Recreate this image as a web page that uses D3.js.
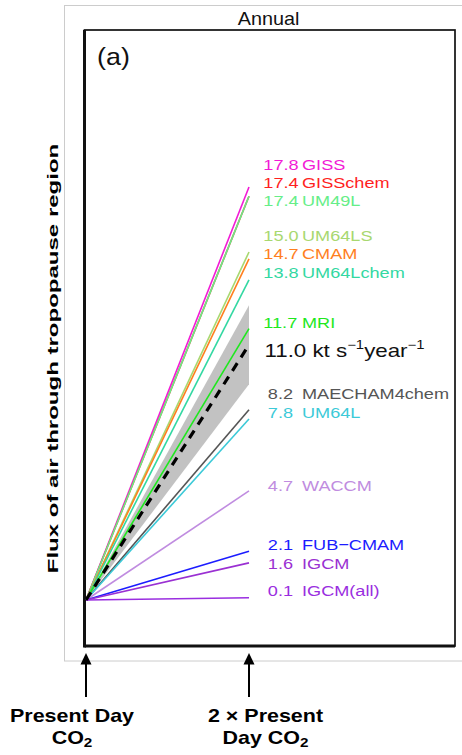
<!DOCTYPE html>
<html>
<head>
<meta charset="utf-8">
<script src="https://cdn.jsdelivr.net/npm/d3@7"></script>
<style>
  html, body { margin: 0; padding: 0; background: #fff; }
  svg { display: block; }
  text { font-family: "Liberation Sans", Arial, Helvetica, sans-serif; }
</style>
</head>
<body>
<svg id="chart" width="462" height="755"></svg>
<script>
// Tropopause-region mass flux trends per model (kt s^-1 per year)
const models = ["GISS", "GISSchem", "UM49L", "UM64LS", "CMAM", "UM64Lchem", "MRI",
                "MAECHAM4chem", "UM64L", "WACCM", "FUB\u2212CMAM", "IGCM", "IGCM(all)"];
const trends = [17.8, 17.4, 17.4, 15.0, 14.7, 13.8, 11.7, 8.2, 7.8, 4.7, 2.1, 1.6, 0.1];
const modelColors = ["#f21ad6", "#ff1f1f", "#66ee88", "#a8d870", "#ff7f1e", "#33d8a2", "#1ee81e",
                     "#555555", "#3ccad8", "#c08ce0", "#1c1cff", "#9a30d2", "#9a2ee0"];
// vertical nudges (px) that keep neighbouring labels from colliding
const labelNudge = [-17.5, -8, 10, -11.5, 0.5, -1.5, -1, -11, -1, 0.5, -1, 6, -1.5];

const meanTrend = 11.0;
const spreadBand = [9.3, 12.7];

const co2Levels = [1, 2];
const co2Labels = [["Present Day", "CO", "2"], ["2 \u00d7 Present", "Day CO", "2"]];

const svg = d3.select("#chart");

const x = d3.scaleLinear().domain([1, 2]).range([86, 249]);
const y = d3.scaleLinear().domain([0, 20]).range([600, 136]);

// outer light panel border
svg.append("rect")
  .attr("x", 64.5).attr("y", 5.5).attr("width", 420).attr("height", 655.5)
  .attr("fill", "none").attr("stroke", "#cccccc").attr("stroke-width", 1);

// panel title
svg.append("text")
  .attr("transform", "translate(268.5,25) scale(1.1,1)")
  .attr("text-anchor", "middle")
  .attr("font-size", 18).attr("fill", "#111")
  .text("Annual");

// plot frame
const frame = { x0: 84.5, x1: 455, y0: 30, y1: 646 };
svg.append("rect")
  .attr("x", frame.x0).attr("y", frame.y0)
  .attr("width", frame.x1 - frame.x0).attr("height", frame.y1 - frame.y0)
  .attr("fill", "none").attr("stroke", "#111").attr("stroke-width", 1.7);
svg.append("line")
  .attr("x1", frame.x0).attr("x2", frame.x0).attr("y1", frame.y0).attr("y2", frame.y1 + 1.5)
  .attr("stroke", "#111").attr("stroke-width", 3);
svg.append("line")
  .attr("x1", frame.x0).attr("x2", frame.x1).attr("y1", frame.y1).attr("y2", frame.y1)
  .attr("stroke", "#111").attr("stroke-width", 3.2);

svg.append("text")
  .attr("transform", "translate(97,65) scale(1.12,1)")
  .attr("font-size", 24).attr("fill", "#111")
  .text("(a)");

// inter-model spread band
svg.append("path")
  .attr("d", d3.line()([[x(1), y(0)], [x(2), y(spreadBand[1])], [x(2), y(spreadBand[0])]]) + "Z")
  .attr("fill", "#c2c2c2");

// one line per model, from the common origin (later models drawn on top)
const lineGen = d3.line().x(d => x(d[0])).y(d => y(d[1]));
svg.append("g").selectAll("path")
  .data(trends.map((t, i) => ({ t, i })))
  .join("path")
  .attr("d", d => lineGen([[1, 0], [2, d.t]]))
  .attr("fill", "none")
  .attr("stroke", d => modelColors[d.i])
  .attr("stroke-width", 1.6);

// multi-model mean
svg.append("path")
  .attr("d", lineGen([[1, 0], [2, meanTrend]]))
  .attr("fill", "none").attr("stroke", "#000")
  .attr("stroke-width", 3.2).attr("stroke-dasharray", "9,7");

// model labels: value then name
const fmt = d3.format(".1f");
const labels = svg.append("g").attr("font-size", 15.5);
trends.forEach((t, i) => {
  const by = y(t) + labelNudge[i];
  const s = fmt(t);
  labels.append("text")
    .attr("transform", `translate(${s.length > 3 ? 263.3 : 267.8},${by}) scale(1.17,1)`)
    .attr("fill", modelColors[i])
    .text(s);
  labels.append("text")
    .attr("transform", `translate(302,${by}) scale(1.17,1)`)
    .attr("fill", modelColors[i])
    .text(models[i]);
});

// mean label with units
const meanLabel = svg.append("text")
  .attr("transform", `translate(264.5,${y(meanTrend) + 12}) scale(1.24,1)`)
  .attr("font-size", 18).attr("fill", "#111");
meanLabel.append("tspan").text(fmt(meanTrend) + " kt s");
meanLabel.append("tspan").attr("dy", -7.5).attr("font-size", 12).text("\u22121");
meanLabel.append("tspan").attr("dy", 7.5).text("year");
meanLabel.append("tspan").attr("dy", -7.5).attr("font-size", 12).text("\u22121");

// y-axis title
svg.append("text")
  .attr("transform", "translate(57.7,358.5) rotate(-90) scale(1.55,1)")
  .attr("text-anchor", "middle")
  .attr("font-size", 15.5).attr("font-weight", "bold").attr("fill", "#000")
  .text("Flux of air through tropopause region");

// CO2 markers below the frame, each with a two-line caption
const marks = svg.append("g");
co2Levels.forEach((c, i) => {
  const cx = x(c);
  marks.append("line")
    .attr("x1", cx).attr("x2", cx).attr("y1", 662).attr("y2", 697)
    .attr("stroke", "#000").attr("stroke-width", 2);
  marks.append("path")
    .attr("d", `M${cx},653 L${cx + 5.5},664.5 L${cx - 5.5},664.5 Z`)
    .attr("fill", "#000");
  const lx = i === 0 ? 72 : 265.5;
  marks.append("text")
    .attr("transform", `translate(${lx},721.5) scale(1.13,1)`)
    .attr("text-anchor", "middle")
    .attr("font-size", 19).attr("font-weight", "bold")
    .text(co2Labels[i][0]);
  const sub = marks.append("text")
    .attr("transform", `translate(${lx},743.5) scale(1.13,1)`)
    .attr("text-anchor", "middle")
    .attr("font-size", 19).attr("font-weight", "bold");
  sub.append("tspan").text(co2Labels[i][1]);
  sub.append("tspan").attr("dy", 3.5).attr("font-size", 13.5).text(co2Labels[i][2]);
});
</script>
</body>
</html>
